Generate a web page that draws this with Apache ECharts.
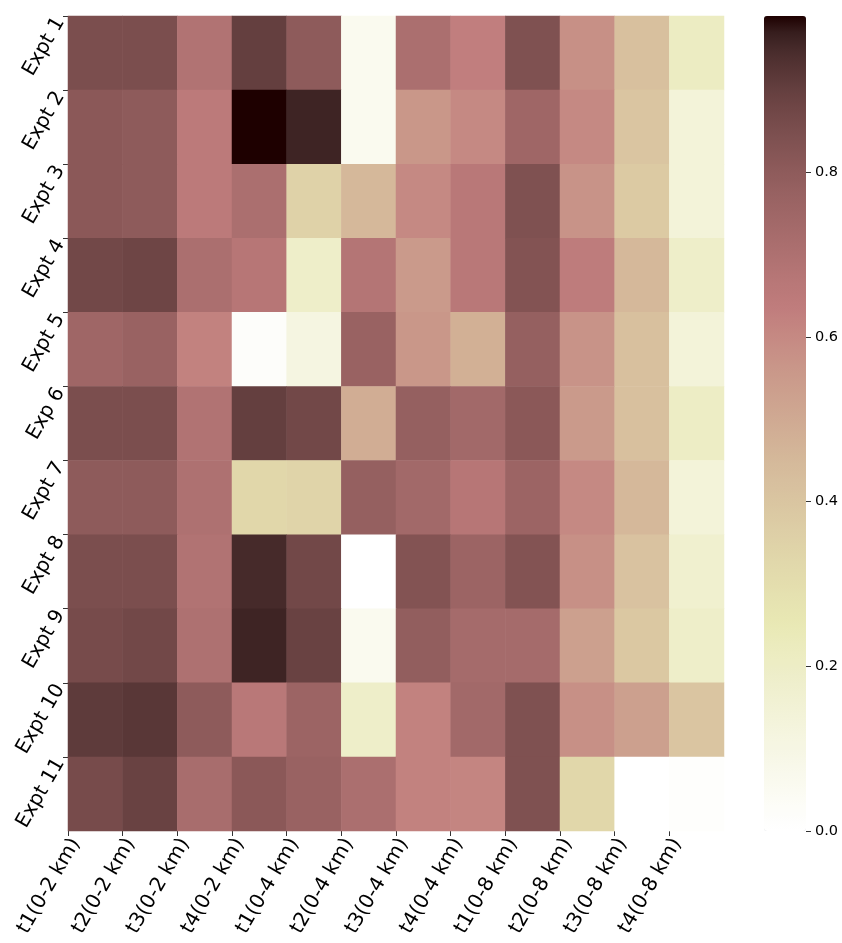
<!DOCTYPE html>
<html>
<head>
<meta charset="utf-8">
<title>Expt heatmap</title>
<script src="https://cdn.jsdelivr.net/npm/echarts@6/dist/echarts.min.js"></script>
<style>
  html, body { margin: 0; padding: 0; background: #fff; }
  #chart { width: 842px; height: 943px; }
</style>
</head>
<body>
<div id="chart"></div>
<script>
// column / row labels
const xLabels = ['t1(0-2 km)', 't2(0-2 km)', 't3(0-2 km)', 't4(0-2 km)',
  't1(0-4 km)', 't2(0-4 km)', 't3(0-4 km)', 't4(0-4 km)',
  't1(0-8 km)', 't2(0-8 km)', 't3(0-8 km)', 't4(0-8 km)']
const yLabels = ['Expt 1', 'Expt 2', 'Expt 3', 'Expt 4', 'Expt 5', 'Exp 6',
  'Expt 7', 'Expt 8', 'Expt 9', 'Expt 10', 'Expt 11']

const expt1 = [0.85, 0.85, 0.69, 0.90, 0.80, 0.06, 0.71, 0.63, 0.84, 0.58, 0.42, 0.21]
const expt2 = [0.81, 0.80, 0.65, 0.99, 0.96, 0.06, 0.56, 0.60, 0.75, 0.60, 0.40, 0.14]
const expt3 = [0.81, 0.80, 0.65, 0.71, 0.35, 0.45, 0.60, 0.66, 0.84, 0.57, 0.38, 0.14]
const expt4 = [0.87, 0.88, 0.71, 0.67, 0.19, 0.68, 0.55, 0.66, 0.83, 0.64, 0.45, 0.19]
const expt5 = [0.75, 0.77, 0.62, 0.02, 0.11, 0.77, 0.56, 0.48, 0.78, 0.57, 0.42, 0.14]
const expt6 = [0.85, 0.85, 0.69, 0.90, 0.87, 0.49, 0.78, 0.74, 0.81, 0.55, 0.42, 0.20]
const expt7 = [0.80, 0.80, 0.70, 0.33, 0.34, 0.78, 0.74, 0.67, 0.76, 0.60, 0.45, 0.14]
const expt8 = [0.85, 0.85, 0.69, 0.95, 0.87, 0.00, 0.83, 0.76, 0.83, 0.58, 0.41, 0.17]
const expt9 = [0.86, 0.87, 0.70, 0.96, 0.89, 0.06, 0.79, 0.73, 0.73, 0.53, 0.39, 0.19]
const expt10 = [0.91, 0.92, 0.80, 0.66, 0.76, 0.19, 0.62, 0.74, 0.84, 0.58, 0.53, 0.40]
const expt11 = [0.86, 0.89, 0.72, 0.81, 0.77, 0.71, 0.62, 0.61, 0.84, 0.33, 0.00, 0.01]
const rows = [expt1, expt2, expt3, expt4, expt5, expt6, expt7, expt8, expt9, expt10, expt11]

// colorbar
const vMin = 0
const vMax = 0.99
const cbTicks = [0, 0.2, 0.4, 0.6, 0.8]

// matplotlib pink_r colormap: sqrt((2*gray + hot) / 3), reversed
const pinkR = (n) => {
  const t = 1 - n
  const hr = Math.min(1, 0.0416 + 0.9584 * t / 0.365079)
  const hg = Math.min(1, Math.max(0, (t - 0.365079) / 0.380953))
  const hb = Math.min(1, Math.max(0, (t - 0.746032) / 0.253968))
  const c = (h) => Math.round(255 * Math.sqrt((2 * t + h) / 3))
  return 'rgb(' + c(hr) + ',' + c(hg) + ',' + c(hb) + ')'
}
const cmap = []
for (let i = 0; i <= 50; i++) cmap.push(pinkR(i / 50))

const heatData = []
rows.forEach((row, r) => {
  row.forEach((v, c) => heatData.push([c, r, v]))
})

const font = 'DejaVu Sans'
const idx = (n) => Array.from({ length: n }, (_, i) => i)
// matplotlib puts the rotated labels' bounding box corner on the tick,
// nudge the label anchors a little to match
const xLabelShift = 0.14
const yLabelShift = 0.04

const chart = echarts.init(document.getElementById('chart'))

const tickStyle = { color: '#333', width: 1 }

const option = {
  backgroundColor: '#fff',
  animation: false,
  grid: [
    { left: 68, top: 16, width: 656, height: 815 },
    { left: 764, top: 16, width: 42, height: 815 }
  ],
  xAxis: [
    {
      type: 'category', gridIndex: 0, data: xLabels,
      axisLine: { show: false }, axisTick: { show: false },
      axisLabel: { show: false }, splitLine: { show: false }
    },
    {
      type: 'value', gridIndex: 0, min: 0, max: 12, position: 'bottom',
      axisLine: { show: false, onZero: false },
      splitLine: { show: false },
      axisTick: { show: true, customValues: idx(12), length: 5, lineStyle: tickStyle },
      axisLabel: {
        customValues: idx(12).map((i) => i + xLabelShift), rotate: 60, margin: 9,
        fontFamily: font, fontSize: 20, color: '#000',
        formatter: (v) => xLabels[Math.round(v - xLabelShift)] || ''
      }
    },
    { type: 'value', gridIndex: 1, show: false, min: 0, max: 1 }
  ],
  yAxis: [
    {
      type: 'category', gridIndex: 0, data: yLabels, inverse: true,
      axisLine: { show: false }, axisTick: { show: false },
      axisLabel: { show: false }, splitLine: { show: false }
    },
    {
      type: 'value', gridIndex: 0, min: 0, max: 11, inverse: true, position: 'left',
      axisLine: { show: false, onZero: false },
      splitLine: { show: false },
      axisTick: { show: true, customValues: idx(11), length: 5, lineStyle: tickStyle },
      axisLabel: {
        customValues: idx(11).map((i) => i + yLabelShift), rotate: 60, margin: 8,
        fontFamily: font, fontSize: 20, color: '#000',
        formatter: (v) => yLabels[Math.round(v - yLabelShift)] || ''
      }
    },
    {
      type: 'value', gridIndex: 1, min: vMin, max: vMax, position: 'right',
      z: 10,
      axisLine: { show: false, onZero: false },
      splitLine: { show: false },
      axisTick: { show: true, customValues: cbTicks, length: 5, lineStyle: tickStyle },
      axisLabel: {
        customValues: cbTicks, margin: 9,
        fontFamily: font, fontSize: 14.5, color: '#000',
        formatter: (v) => v.toFixed(1)
      }
    }
  ],
  visualMap: {
    type: 'continuous',
    seriesIndex: 0,
    min: vMin,
    max: vMax,
    calculable: false,
    hoverLink: false,
    orient: 'vertical',
    left: 764,
    top: 16,
    padding: 0,
    itemWidth: 42,
    itemHeight: 815,
    text: null,
    z: 2,
    inRange: { color: cmap }
  },
  series: [
    {
      type: 'heatmap',
      xAxisIndex: 0,
      yAxisIndex: 0,
      data: heatData,
      itemStyle: { borderWidth: 0 },
      emphasis: { disabled: true }
    }
  ]
}

chart.setOption(option)
</script>
</body>
</html>
